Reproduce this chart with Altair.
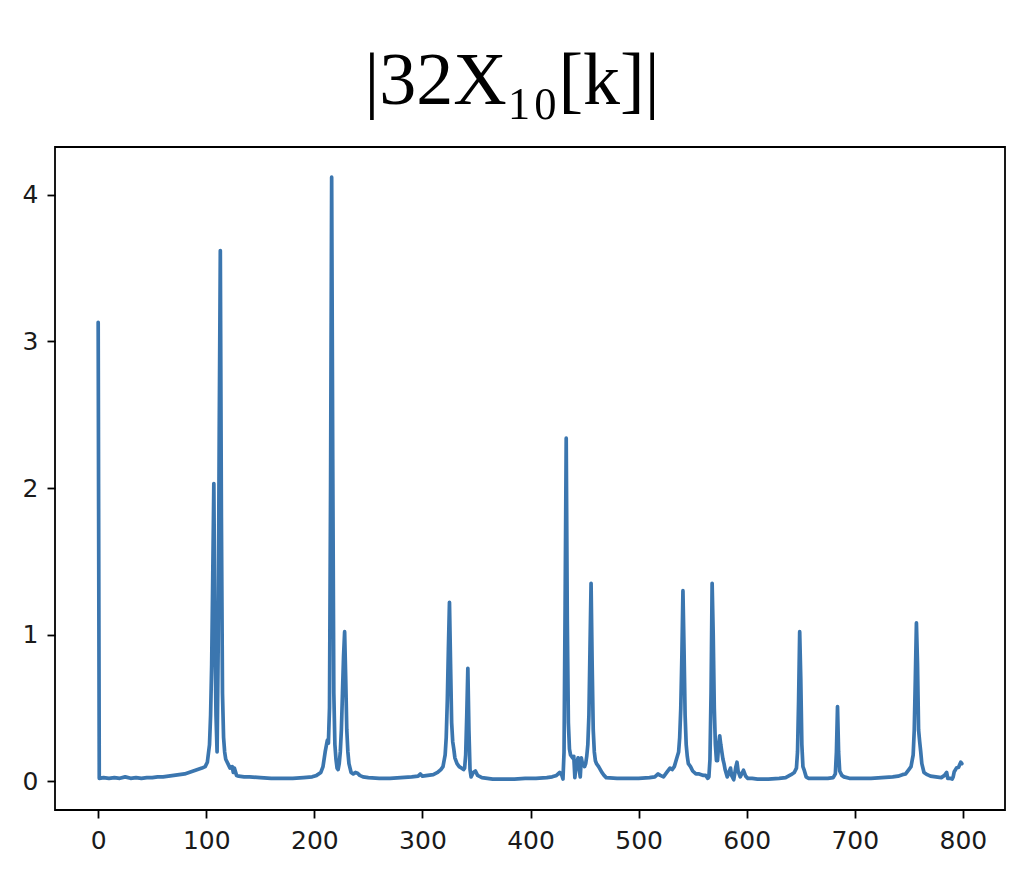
import altair as alt
import pandas as pd

k_vals = [
    0, 1, 5, 10, 15, 20, 25, 30, 35, 40, 45, 50, 55, 60, 65, 70, 75, 80, 84, 88, 92, 96, 99,
    101, 103, 104, 105, 106, 107, 108, 109, 110, 111, 112, 113, 114, 115, 116, 117, 118, 120,
    122, 124, 125, 126, 128, 130, 135, 140, 150, 160, 170, 180, 190, 198, 202, 206, 208, 210,
    212, 213, 214, 215, 216, 217, 218, 219, 220, 221, 222, 223, 224, 225, 226, 227, 228, 229,
    230, 231, 232, 234, 236, 238, 240, 242, 245, 250, 260, 270, 280, 290, 296, 298, 300, 305,
    310, 314, 317, 319, 320, 321, 322, 323, 324, 325, 326, 327, 328, 329, 330, 332, 334, 336,
    338, 339, 340, 341, 342, 343, 344, 345, 347, 349, 351, 355, 365, 375, 385, 395, 405, 415,
    420, 424, 427, 429, 430, 431, 432, 433, 434, 435, 436, 437, 439, 440, 441, 442, 444, 445,
    446, 447, 448, 450, 451, 452, 453, 454, 455, 456, 457, 458, 459, 460, 461, 463, 466, 468,
    470, 480, 490, 500, 510, 515, 518, 520, 523, 526, 529, 531, 533, 535, 537, 538, 539, 540,
    541, 542, 543, 544, 545, 546, 548, 550, 553, 556, 560, 562, 564, 565, 566, 567, 568, 569,
    570, 571, 572, 573, 574, 575, 576, 577, 578, 579, 580, 582, 584, 585, 586, 588, 590, 591,
    592, 594, 596, 597, 599, 601, 605, 610, 620, 630, 636, 641, 644, 646, 647, 648, 649, 650,
    651, 652, 653, 655, 657, 665, 675, 680, 682, 683, 684, 685, 686, 688, 690, 695, 705, 715,
    725, 735, 740, 744, 747, 750, 752, 754, 755, 756, 757, 758, 759, 760, 761, 762, 764, 767,
    770, 775, 780, 783, 785, 786, 788, 790, 791, 792, 794, 796, 798, 799,
]

mag_vals = [
    3.13, 0.02, 0.025, 0.02, 0.025, 0.02, 0.03, 0.02, 0.025, 0.02, 0.025, 0.025, 0.03, 0.03,
    0.035, 0.04, 0.045, 0.05, 0.06, 0.07, 0.08, 0.09, 0.1,
    0.13, 0.25, 0.45, 0.8, 1.4, 2.03, 1.0, 0.45, 0.2, 0.9, 2.4, 3.62, 1.8, 0.6, 0.3, 0.2, 0.15,
    0.12, 0.09, 0.1, 0.06, 0.09, 0.04, 0.035, 0.03, 0.03, 0.025, 0.02, 0.02, 0.02, 0.025, 0.03,
    0.04, 0.06, 0.1, 0.2,
    0.28, 0.26, 0.5, 2.0, 4.12, 2.2, 0.6, 0.25, 0.15, 0.09, 0.08, 0.12, 0.2, 0.35, 0.6, 0.85,
    1.02, 0.7,
    0.35, 0.2, 0.12, 0.06, 0.05, 0.06, 0.055, 0.04, 0.03, 0.025, 0.02, 0.02, 0.025, 0.03, 0.035,
    0.05, 0.035, 0.04,
    0.045, 0.06, 0.08, 0.1, 0.14, 0.18, 0.3, 0.55, 0.9, 1.22, 0.8, 0.4, 0.27, 0.22, 0.16, 0.12,
    0.1, 0.09,
    0.08, 0.09, 0.18, 0.45, 0.77, 0.35, 0.08, 0.03, 0.06, 0.07, 0.04, 0.025, 0.015, 0.015,
    0.015, 0.02, 0.02, 0.025,
    0.03, 0.04, 0.06, 0.04, 0.015, 0.2, 1.2, 2.34, 1.1, 0.4, 0.22, 0.18, 0.16, 0.17, 0.025, 0.1,
    0.16, 0.08,
    0.03, 0.16, 0.12, 0.1, 0.12, 0.17, 0.25, 0.45, 0.9, 1.35, 0.8, 0.35, 0.2, 0.14, 0.12, 0.1,
    0.06, 0.04,
    0.025, 0.02, 0.02, 0.02, 0.025, 0.03, 0.05, 0.04, 0.03, 0.06, 0.09, 0.08, 0.1, 0.15, 0.2,
    0.3, 0.5, 0.85,
    1.30, 0.9, 0.45, 0.25, 0.17, 0.12, 0.1, 0.07, 0.05, 0.05, 0.04, 0.04, 0.02, 0.03, 0.15, 0.6,
    1.35, 1.0,
    0.5, 0.25, 0.14, 0.14, 0.25, 0.31, 0.25, 0.2, 0.15, 0.12, 0.08, 0.03, 0.07, 0.09, 0.04,
    0.01, 0.1, 0.13,
    0.07, 0.03, 0.06, 0.075, 0.035, 0.02, 0.02, 0.015, 0.015, 0.02, 0.025, 0.045, 0.06, 0.09,
    0.2, 0.55, 1.02, 0.7,
    0.25, 0.1, 0.08, 0.03, 0.02, 0.02, 0.02, 0.025, 0.05, 0.2, 0.51, 0.2, 0.07, 0.04, 0.03,
    0.02, 0.02, 0.02,
    0.025, 0.03, 0.035, 0.045, 0.05, 0.08, 0.1, 0.18, 0.35, 0.7, 1.08, 0.8, 0.35, 0.27, 0.2,
    0.12, 0.06, 0.045,
    0.035, 0.03, 0.025, 0.04, 0.06, 0.02, 0.02, 0.015, 0.03, 0.065, 0.09, 0.095, 0.13, 0.12,
]

x_ticks = [0, 100, 200, 300, 400, 500, 600, 700, 800]
y_ticks = [0, 1, 2, 3, 4]
title_text = "|32X\u2081\u2080[k]|"

df = pd.DataFrame({"k": k_vals, "mag": mag_vals})

axis_common = dict(
    grid=False,
    domain=False,
    ticks=True,
    tickColor="black",
    tickWidth=1.8,
    tickSize=8,
    labelColor="#1a1a1a",
    labelFont="DejaVu Sans",
    labelFontSize=25,
    title=None,
)

chart = (
    alt.Chart(df)
    .mark_line(color="#3b76af", strokeWidth=3.7, strokeJoin="round", strokeCap="round")
    .encode(
        x=alt.X(
            "k:Q",
            scale=alt.Scale(domain=[-39.95, 838.95], nice=False, zero=False),
            axis=alt.Axis(values=x_ticks, format="d", labelPadding=10, labelFlush=False,
                          **axis_common),
        ),
        y=alt.Y(
            "mag:Q",
            scale=alt.Scale(domain=[-0.196, 4.326], nice=False, zero=False),
            axis=alt.Axis(values=y_ticks, format="d", labelPadding=9, **axis_common),
        ),
        order="k:Q",
    )
    .properties(
        width=950,
        height=663,
        background="white",
        autosize=alt.AutoSizeParams(type="none"),
        padding={"left": 47, "top": 139, "right": 11, "bottom": 56},
        title=alt.TitleParams(
            text=title_text,
            font="Liberation Serif",
            fontSize=74,
            fontWeight="normal",
            color="black",
            anchor="middle",
            offset=27,
            dx=-18,
        ),
    )
    .configure_view(stroke="black", strokeWidth=1.8)
)

chart.save("out.html", embed_options={"renderer": "svg", "actions": False})
